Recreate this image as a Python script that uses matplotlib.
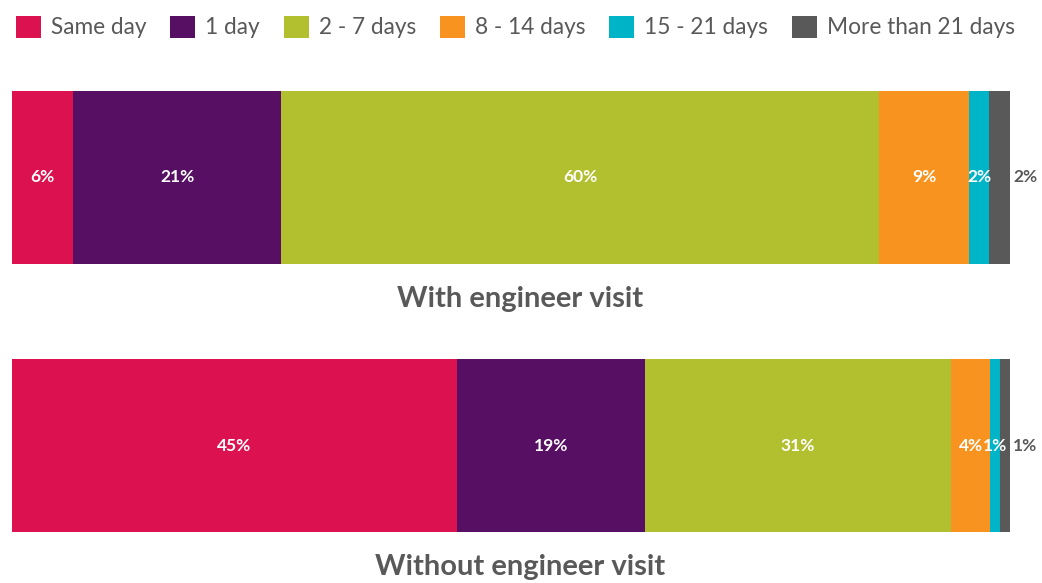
import matplotlib.pyplot as plt
import numpy as np

plt.rcParams['font.family'] = ['Lato', 'DejaVu Sans']

# Dati
categorie = ['Same day', '1 day', '2 - 7 days', '8 - 14 days', '15 - 21 days', 'More than 21 days']
gruppi = ['With engineer visit', 'Without engineer visit']
con_visita = [6.1, 20.9, 59.9, 9.0, 2.0, 2.1]
senza_visita = [44.6, 18.8, 30.7, 3.9, 1.0, 1.0]
colori = ['#DC1150', '#560F62', '#B2BF2E', '#F7931E', '#00B4C8', '#595959']

valori = np.array([con_visita, senza_visita])
grigio = '#595959'

fig = plt.figure(figsize=(10.42, 5.83), dpi=100)
ax = fig.add_axes([12 / 1042, 51 / 583, 998 / 1042, 441 / 583])

altezza = 0.6455
sinistra = np.zeros(len(gruppi))
for j, cat in enumerate(categorie):
    barre = ax.barh(range(len(gruppi)), valori[:, j], left=sinistra, height=altezza,
                    color=colori[j], label=cat, edgecolor='none')
    for i, b in enumerate(barre):
        v = valori[i, j]
        if j == len(categorie) - 1:
            ax.text(b.get_x() + b.get_width() + 0.3, i, f'{v:.0f}%', ha='left', va='center',
                    color=grigio, fontsize=12.5, fontweight='bold', clip_on=False)
        else:
            ax.text(b.get_x() + b.get_width() / 2, i, f'{v:.0f}%', ha='center', va='center',
                    color='white', fontsize=12.5, fontweight='bold')
    sinistra += valori[:, j]

# Titoli dei gruppi sotto le barre
for i, g in enumerate(gruppi):
    ax.text(50.9, i + 0.455, g, ha='center', va='center', color=grigio,
            fontsize=21, fontweight='bold', clip_on=False)

ax.set_xlim(0, 100)
ax.set_ylim(1 + altezza / 2, -altezza / 2)
ax.axis('off')

fig.legend(loc='upper left', bbox_to_anchor=(0.0, 1.0), ncol=6, frameon=False,
           fontsize=16.3, labelcolor=grigio, handlelength=1.1, handleheight=1.1,
           handletextpad=0.45, columnspacing=1.05, borderaxespad=0.3)

plt.savefig('out.png', dpi=100)
